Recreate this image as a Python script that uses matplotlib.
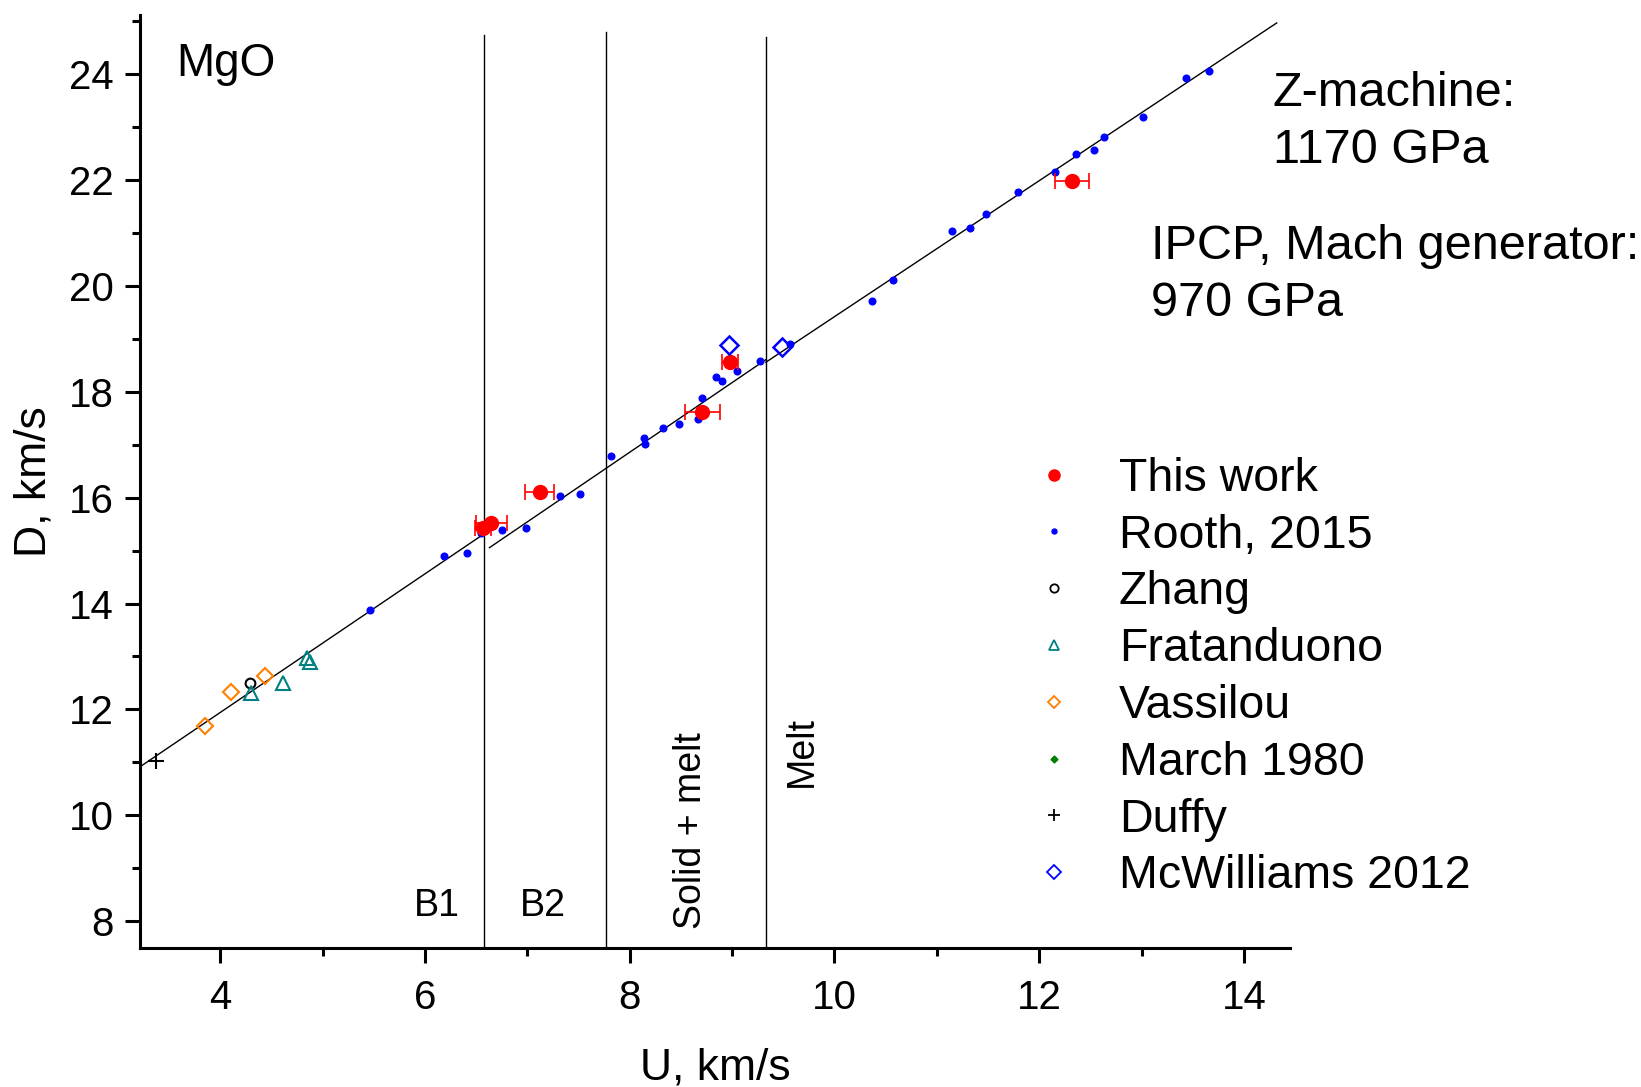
import matplotlib
matplotlib.use("Agg")
import matplotlib.pyplot as plt
import numpy as np
from matplotlib.ticker import MultipleLocator
from matplotlib.lines import Line2D

plt.rcParams['font.family'] = ['Liberation Sans', 'DejaVu Sans']

# --- data (U, km/s ; D, km/s) ---
this_u = [6.57, 6.65, 7.12, 8.71, 8.98, 12.32]
this_d = [15.43, 15.53, 16.10, 17.62, 18.56, 21.98]
this_uerr = [0.08, 0.15, 0.14, 0.17, 0.08, 0.165]

rooth_u = [5.46, 6.19, 6.41, 6.55, 6.75, 6.99, 7.32, 7.51, 7.82, 8.14, 8.15,
           8.33, 8.48, 8.67, 8.71, 8.84, 8.90, 9.05, 9.27, 9.57, 10.37, 10.57,
           11.15, 11.32, 11.48, 11.79, 12.15, 12.36, 12.54, 12.63, 13.01,
           13.43, 13.66]
rooth_d = [13.87, 14.89, 14.96, 15.34, 15.39, 15.42, 16.04, 16.06, 16.78,
           17.12, 17.02, 17.31, 17.40, 17.49, 17.88, 18.28, 18.21, 18.40,
           18.58, 18.91, 19.71, 20.12, 21.04, 21.09, 21.36, 21.77, 22.15,
           22.50, 22.57, 22.82, 23.19, 23.94, 24.06]

zhang_u = [4.29]
zhang_d = [12.49]

frat_u = [4.30, 4.61, 4.85, 4.88]
frat_d = [12.30, 12.50, 12.97, 12.89]

vass_u = [3.85, 4.11, 4.44]
vass_d = [11.68, 12.33, 12.63]

march_u = []
march_d = []

duffy_u = [3.37]
duffy_d = [11.03]

mcw_u = [8.97, 9.49]
mcw_d = [18.88, 18.84]

# linear fits D = a + b*U for each phase
fit_ranges = [(3.2, 6.58), (6.63, 9.33), (9.33, 14.32)]
fit_a = [6.70, 6.33, 6.57]
fit_b = [1.31, 1.316, 1.285]

# phase boundaries
bound_u = [6.58, 7.77, 9.33]
bound_top = [24.75, 24.8, 24.7]

fig = plt.figure(figsize=(16.41, 10.87), dpi=100)
ax = fig.add_axes([0.0852, 0.1279, 0.7009, 0.8587])

for (u0, u1), a, b in zip(fit_ranges, fit_a, fit_b):
    uu = np.array([u0, u1])
    ax.plot(uu, a + b * uu, color='black', lw=1.0, zorder=2)

for u, top in zip(bound_u, bound_top):
    ax.plot([u, u], [7.49, top], color='black', lw=1.0, zorder=1)

ax.errorbar(this_u, this_d, xerr=this_uerr, fmt='o', color='red', ms=10,
            ecolor='red', elinewidth=1.2, capsize=6, capthick=1.2, zorder=5)
ax.plot(rooth_u, rooth_d, 'o', color='blue', ms=4.8, ls='none', zorder=4)
ax.plot(zhang_u, zhang_d, 'o', mfc='none', mec='black', mew=1.5, ms=7,
        ls='none', zorder=4)
ax.plot(frat_u, frat_d, '^', mfc='none', mec='#008080', mew=1.5, ms=10,
        ls='none', zorder=4)
ax.plot(vass_u, vass_d, 'D', mfc='none', mec='#ff7f00', mew=1.5, ms=8,
        ls='none', zorder=4)
ax.plot(march_u, march_d, 'D', color='green', ms=4, ls='none', zorder=4)
ax.plot(duffy_u, duffy_d, '+', color='black', mew=1.5, ms=12, ls='none',
        zorder=4)
ax.plot(mcw_u, mcw_d, 'D', mfc='none', mec='blue', mew=1.8, ms=9,
        ls='none', zorder=6)

handles = [
    Line2D([], [], marker='o', color='red', ms=8, ls='none'),
    Line2D([], [], marker='o', color='blue', ms=3.6, ls='none'),
    Line2D([], [], marker='o', mfc='none', mec='black', mew=1.3, ms=6, ls='none'),
    Line2D([], [], marker='^', mfc='none', mec='#008080', mew=1.3, ms=7, ls='none'),
    Line2D([], [], marker='D', mfc='none', mec='#ff7f00', mew=1.3, ms=6, ls='none'),
    Line2D([], [], marker='D', color='green', ms=3.5, ls='none'),
    Line2D([], [], marker='+', color='black', mew=1.3, ms=9, ls='none'),
    Line2D([], [], marker='D', mfc='none', mec='blue', mew=1.3, ms=7, ls='none'),
]
labels = ['This work', 'Rooth, 2015', 'Zhang', 'Fratanduono', 'Vassilou',
          'March 1980', 'Duffy', 'McWilliams 2012']

ax.set_xlim(3.215, 14.45)
ax.set_ylim(7.49, 25.13)
ax.xaxis.set_major_locator(MultipleLocator(2))
ax.xaxis.set_minor_locator(MultipleLocator(1))
ax.yaxis.set_major_locator(MultipleLocator(2))
ax.yaxis.set_minor_locator(MultipleLocator(1))

for side in ['top', 'right']:
    ax.spines[side].set_visible(False)
for side in ['left', 'bottom']:
    ax.spines[side].set_linewidth(2.2)
ax.tick_params(which='major', direction='out', length=11, width=2.2,
               labelsize=29, pad=8)
ax.tick_params(axis='x', which='major', pad=11)
ax.tick_params(which='minor', direction='out', length=6, width=2.2)

ax.set_xlabel('U, km/s', fontsize=32, labelpad=22)
ax.set_ylabel('D, km/s', fontsize=32, labelpad=10)

ax.text(3.57, 24.2, 'MgO', fontsize=33, va='center', ha='left')
ax.text(6.12, 8.28, 'B1', fontsize=27, va='center', ha='center')
ax.text(7.15, 8.28, 'B2', fontsize=27, va='center', ha='center')
ax.text(8.6, 9.7, 'Solid + melt', fontsize=27, va='center', ha='center',
        rotation=90)
ax.text(9.68, 11.2, 'Melt', fontsize=27, va='center', ha='center',
        rotation=90)
ax.text(14.28, 23.1, 'Z-machine:\n1170 GPa', fontsize=35, va='center',
        ha='left', linespacing=1.32)
ax.text(13.09, 20.21, 'IPCP, Mach generator:\n970 GPa', fontsize=35,
        va='center', ha='left', linespacing=1.32)

ax.legend(handles, labels, loc='upper left', bbox_to_anchor=(0.738, 0.571),
          frameon=False, fontsize=33.5, labelspacing=0.275, handletextpad=0.9,
          handlelength=1.0)

fig.savefig('out.png', dpi=100)
